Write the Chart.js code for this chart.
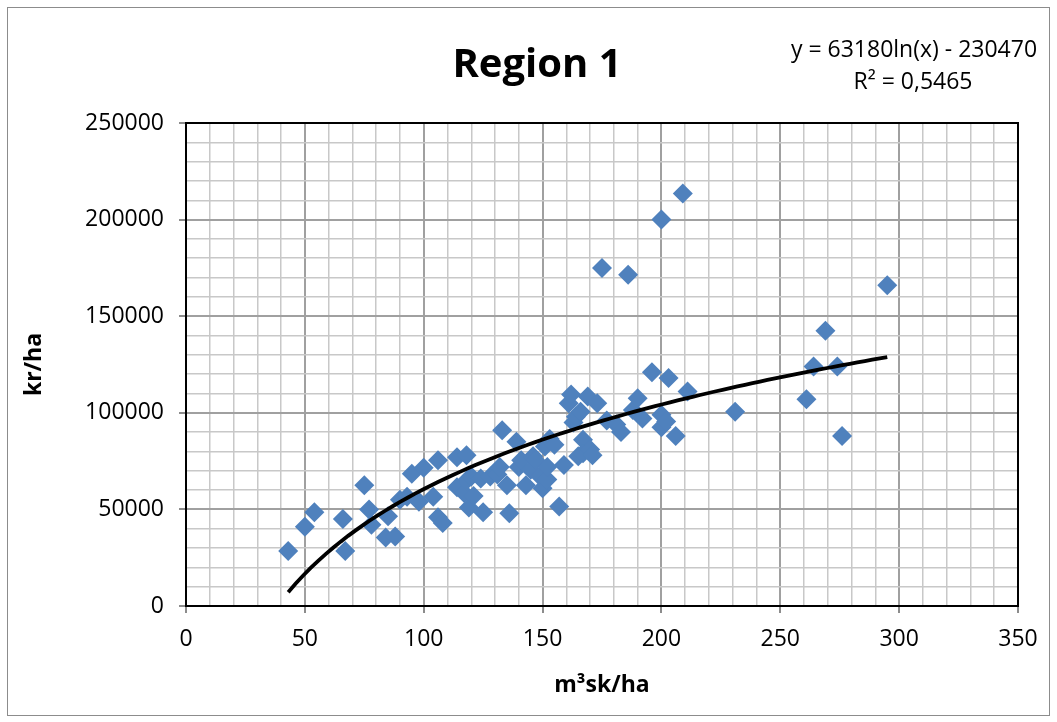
<!DOCTYPE html>
<html>
<head>
<meta charset="utf-8">
<script src="https://cdn.jsdelivr.net/npm/chart.js@4.4.0/dist/chart.umd.min.js"></script>
<style>
html,body{margin:0;padding:0;background:#fff;}
#wrap{width:1057px;height:722px;position:relative;}
</style>
</head>
<body>
<div id="wrap"><canvas id="c" width="1057" height="722"></canvas></div>
<script>
const chartTitle = 'Region 1';
const xAxisTitle = 'm³sk/ha';
const yAxisTitle = 'kr/ha';
const equationLines = ['y = 63180ln(x) - 230470', 'R² = 0,5465'];
const trendA = 63180;
const trendB = -230470;

const xValues = [43, 50, 54, 66, 67, 75, 77, 78, 84, 85, 88, 90, 93, 95, 98, 100, 104, 106, 106, 108,
  114, 114, 118, 117, 118, 119, 121, 120, 124, 125, 128, 131, 132, 133, 135, 136, 139, 140, 141, 143,
  145, 146, 147, 149, 150, 151, 152, 152, 153, 155, 157, 159, 161, 162, 163, 164, 165, 166, 167, 167,
  169, 170, 171, 173, 175, 177, 181, 183, 186, 188, 190, 192, 196, 200, 200, 200, 202, 203, 206, 209,
  211, 231, 261, 264, 269, 274, 276, 295];
const yValues = [28500, 41000, 48500, 45000, 28500, 62500, 50000, 42000, 35500, 46500, 36000, 55000, 56500, 68500, 54000, 71500, 56500, 75500, 46000, 43000,
  77000, 61500, 78000, 58500, 65000, 51000, 57000, 67000, 66000, 48500, 67000, 68000, 72000, 91000, 62500, 48000, 85000, 72000, 75500, 62500,
  70500, 77500, 75500, 67000, 61000, 82500, 65500, 72000, 86500, 83500, 51500, 73000, 105000, 109500, 95000, 98000, 77500, 100500, 86000, 79000,
  108500, 81000, 78000, 105000, 175000, 96000, 94000, 90000, 171500, 101500, 107500, 97000, 121000, 99000, 200000, 92500, 95500, 118000, 88000, 213500,
  111000, 100500, 107000, 124000, 142500, 124000, 88000, 166000];

const xTickLabels = [0, 50, 100, 150, 200, 250, 300, 350];
const yTickLabels = [0, 50000, 100000, 150000, 200000, 250000];

const points = xValues.map((x, i) => ({x: x, y: yValues[i]}));
const xMinData = Math.min(...xValues), xMaxData = Math.max(...xValues);
const trendPts = [];
for (let k = 0; k <= 80; k++) {
  const x = xMinData + (xMaxData - xMinData) * k / 80;
  trendPts.push({x: x, y: trendA * Math.log(x) + trendB});
}

const FONT = "'Open Sans', 'Liberation Sans', sans-serif";
const isMajorX = v => xTickLabels.includes(v);
const isMajorY = v => yTickLabels.includes(v);

const decor = {
  id: 'decor',
  beforeDatasetsDraw(chart) {
    const {ctx, chartArea: a} = chart;
    ctx.save();
    ctx.strokeStyle = '#000';
    ctx.lineWidth = 2;
    ctx.strokeRect(a.left, a.top, a.right - a.left, a.bottom - a.top);
    ctx.restore();
  },
  afterDraw(chart) {
    const {ctx} = chart;
    ctx.save();
    ctx.strokeStyle = '#8c8c8c';
    ctx.lineWidth = 1;
    ctx.strokeRect(7.5, 7.5, 1042, 708);
    ctx.fillStyle = '#000';
    ctx.textAlign = 'center';
    ctx.textBaseline = 'alphabetic';
    ctx.font = "bold 40px " + FONT;
    ctx.fillText(chartTitle, 537, 77);
    ctx.font = "23px " + FONT;
    ctx.fillText(equationLines[0], 914, 57);
    ctx.fillText(equationLines[1], 913, 89);
    ctx.restore();
  }
};

new Chart(document.getElementById('c'), {
  type: 'scatter',
  data: {
    datasets: [
      {
        label: 'trend', type: 'line', data: trendPts, borderColor: '#000', borderWidth: 3.8,
        pointRadius: 0, fill: false, tension: 0, order: 0
      },
      {
        label: 'data', data: points, pointStyle: 'rectRot', pointRadius: 10,
        backgroundColor: '#4f81bd', borderColor: '#4f81bd', borderWidth: 0, order: 1
      }
    ]
  },
  options: {
    responsive: false,
    animation: false,
    events: [],
    layout: {padding: {left: 0, right: 39, top: 123, bottom: 0}},
    plugins: {legend: {display: false}, tooltip: {enabled: false}, title: {display: false}},
    scales: {
      x: {
        type: 'linear', min: 0, max: 350,
        afterFit: s => { s.height = 116; },
        ticks: {
          stepSize: 10, autoSkip: false, maxRotation: 0, minRotation: 0,
          callback: v => isMajorX(v) ? String(v) : '',
          font: {family: FONT, size: 23}, color: '#000', padding: 13
        },
        grid: {
          color: c => isMajorX(c.tick.value) ? '#a0a0a0' : '#c8c8c8',
          lineWidth: c => isMajorX(c.tick.value) ? 2 : 1.5,
          tickColor: c => isMajorX(c.tick.value) ? '#8c8c8c' : 'rgba(0,0,0,0)',
          tickLength: 7
        },
        border: {display: true, color: '#8c8c8c', width: 2},
        title: {display: true, text: xAxisTitle, font: {family: FONT, size: 23, weight: 'bold'}, color: '#000', padding: {top: 0, bottom: 23}}
      },
      y: {
        type: 'linear', min: 0, max: 250000,
        afterFit: s => { s.width = 186; },
        ticks: {
          stepSize: 10000, autoSkip: false,
          callback: v => isMajorY(v) ? String(v) : '',
          font: {family: FONT, size: 23}, color: '#000', padding: 15
        },
        grid: {
          color: c => isMajorY(c.tick.value) ? '#a0a0a0' : '#c8c8c8',
          lineWidth: c => isMajorY(c.tick.value) ? 2 : 1.5,
          tickColor: c => isMajorY(c.tick.value) ? '#8c8c8c' : 'rgba(0,0,0,0)',
          tickLength: 7
        },
        border: {display: true, color: '#8c8c8c', width: 2},
        title: {display: true, text: yAxisTitle, font: {family: FONT, size: 23, weight: 'bold'}, color: '#000', padding: {top: 21, bottom: 0}}
      }
    }
  },
  plugins: [decor]
});
</script>
</body>
</html>
